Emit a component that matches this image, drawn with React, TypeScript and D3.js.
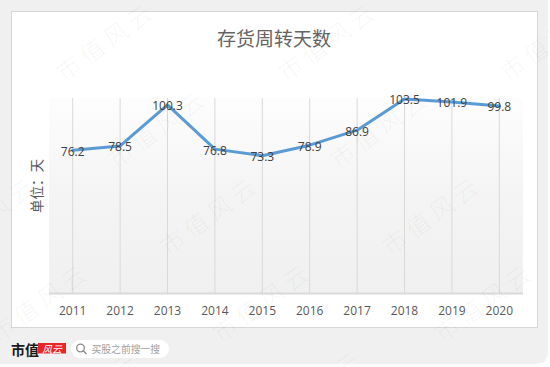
import React from "react";
import * as d3 from "d3";

const years = ["2011", "2012", "2013", "2014", "2015", "2016", "2017", "2018", "2019", "2020"];
const days = [76.2, 78.5, 100.3, 76.8, 73.3, 78.9, 86.9, 103.5, 101.9, 99.8];
const title = "存货周转天数";
const yAxisTitle = "单位：天";
const watermarkText = "市值风云";
const searchText = "买股之前搜一搜";

const W = 550;
const H = 367;
const plot = { left: 49, right: 523, top: 98, bottom: 293.5 };

export default function App() {
  const x = d3.scaleBand<string>().domain(years).range([plot.left, plot.right]);
  const y = d3.scaleLinear().domain([0, 104]).range([plot.bottom, plot.top]);
  const cx = (d: string) => (x(d) as number) + x.bandwidth() / 2;
  const line = d3
    .line<number>()
    .x((_, i) => cx(years[i]))
    .y((d) => y(d));

  const marks: { x: number; y: number }[] = [];
  for (let r = -2; r <= 5; r++) {
    for (let c = -2; c <= 3; c++) {
      marks.push({ x: 105 + r * 52 + c * 222, y: 40 + r * 87 });
    }
  }

  const font = "'Open Sans', 'Noto Sans CJK SC', sans-serif";

  return (
    <div style={{ position: "absolute", left: 0, top: 0 }}>
      <svg width={W} height={H} style={{ display: "block" }}>
        <defs>
          <linearGradient id="plotbg" x1="0" y1="0" x2="0" y2="1">
            <stop offset="0" stopColor="#fdfdfd" />
            <stop offset="0.5" stopColor="#f4f4f4" />
            <stop offset="1" stopColor="#f0f0f0" />
          </linearGradient>
        </defs>
        <rect x={0} y={0} width={W} height={H} fill="#ffffff" />
        <rect x={-12} y={-12} width={560} height={376} rx={10} fill="#f0f0f0" />
        <rect x={11.5} y={11.5} width={526} height={316} fill="#ffffff" stroke="#d6d6d6" strokeWidth={1} />

        <rect
          x={plot.left}
          y={plot.top}
          width={plot.right - plot.left}
          height={plot.bottom - plot.top}
          fill="url(#plotbg)"
        />
        {years.map((yr) => (
          <line
            key={"g" + yr}
            x1={cx(yr)}
            x2={cx(yr)}
            y1={plot.top}
            y2={plot.bottom}
            stroke="#d9d9d9"
            strokeWidth={1}
          />
        ))}
        <line x1={plot.left} x2={plot.right} y1={plot.bottom} y2={plot.bottom} stroke="#d9d9d9" strokeWidth={2} />

        {years.map((yr) => (
          <text
            key={"t" + yr}
            x={cx(yr)}
            y={310}
            textAnchor="middle"
            dominantBaseline="central"
            fontFamily={font}
            fontSize={12}
            fill="#595959"
          >
            {yr}
          </text>
        ))}

        <text
          x={274}
          y={37}
          textAnchor="middle"
          dominantBaseline="central"
          fontFamily="'Noto Sans CJK SC', sans-serif"
          fontSize={19}
          fill="#646464"
        >
          {title}
        </text>

        <text
          transform="translate(35.5,186) rotate(-90)"
          textAnchor="middle"
          dominantBaseline="central"
          fontFamily="'Noto Sans CJK SC', sans-serif"
          fontSize={13.5}
          fill="#595959"
        >
          {yAxisTitle}
        </text>

        <path
          d={line(days) || ""}
          fill="none"
          stroke="#5b9bd5"
          strokeWidth={3}
          strokeLinejoin="round"
          strokeLinecap="round"
        />

        {days.map((v, i) => (
          <text
            key={"l" + i}
            x={cx(years[i])}
            y={y(v) + 1}
            textAnchor="middle"
            dominantBaseline="central"
            fontFamily={font}
            fontSize={12}
            fill="#404040"
          >
            {v.toFixed(1)}
          </text>
        ))}

        {/* footer */}
        <text x={11} y={349} dominantBaseline="central" fontFamily="'Noto Sans CJK SC', serif" fontWeight={700} fontSize={14} fill="#1a1a1a">
          市值
        </text>
        <rect x={38} y={343} width={28} height={10.5} fill="#e8262a" />
        <text x={52} y={348.5} textAnchor="middle" dominantBaseline="central" fontFamily="'Noto Sans CJK SC', sans-serif" fontStyle="italic" fontSize={10} fill="#ffffff">
          风云
        </text>
        <rect x={71} y={340} width={98} height={18} rx={9} fill="#ffffff" />
        <circle cx={80.5} cy={348} r={3.8} fill="none" stroke="#8a8a8a" strokeWidth={1.3} />
        <line x1={83.3} y1={350.8} x2={86} y2={353.5} stroke="#8a8a8a" strokeWidth={1.5} strokeLinecap="round" />
        <text x={91.5} y={349} dominantBaseline="central" fontFamily="'Noto Sans CJK SC', sans-serif" fontSize={9.8} fill="#a0a0a0">
          {searchText}
        </text>

        {/* watermarks */}
        {marks.map((m, i) => (
          <text
            key={"w" + i}
            transform={`translate(${m.x},${m.y}) rotate(-36)`}
            textAnchor="middle"
            dominantBaseline="central"
            fontFamily="'Noto Sans CJK SC', sans-serif"
            fontWeight={300}
            fontSize={24}
            letterSpacing={5}
            fill="#000000"
            fillOpacity={0.05}
          >
            {watermarkText}
          </text>
        ))}
      </svg>
    </div>
  );
}
